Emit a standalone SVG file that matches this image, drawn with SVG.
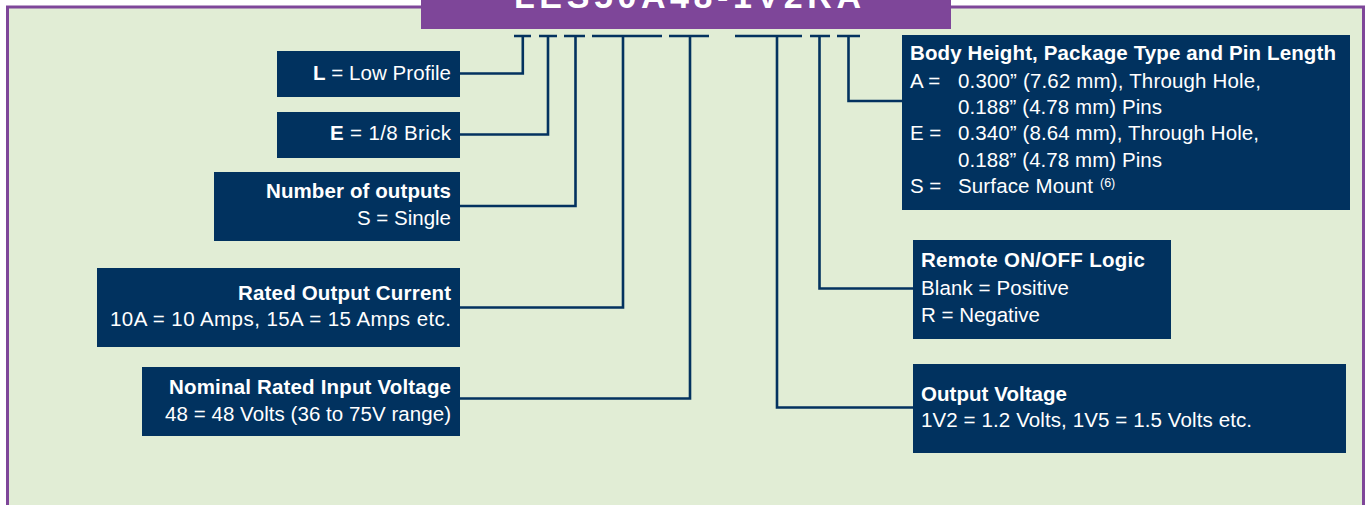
<svg xmlns="http://www.w3.org/2000/svg" width="1369" height="505" viewBox="0 0 1369 505">
  <style>
    .box { fill: #01325f; }
    .t { font-family: "Liberation Sans", Arial, Helvetica, sans-serif; font-size: 20.5px; fill: #ffffff; }
    .b { font-weight: bold; }
    .end { text-anchor: end; }
    .conn { fill: none; stroke: #03325f; stroke-width: 2.6; stroke-linejoin: miter; stroke-linecap: butt; }
  </style>
  <rect x="0" y="0" width="1369" height="505" fill="#ffffff"/>
  <rect id="panel" x="7.5" y="7" width="1356" height="520" fill="#e1edd5" stroke="#7e4699" stroke-width="3"/>

  <g id="title">
    <rect x="421" y="0" width="530" height="29" fill="#7e4699"/>
    <text x="514" y="8" class="t b" style="font-size:34px; letter-spacing:4.6px">LES50A48-1V2RA</text>
  </g>

  <g id="connectors">
    <path class="conn" d="M514,36 H531 M522.8,36 V73.5 H460"/>
    <path class="conn" d="M539,36 H557 M548,36 V134.5 H460"/>
    <path class="conn" d="M564,36 H585 M575.5,36 V206 H460"/>
    <path class="conn" d="M592,36 H662 M623,36 V307.5 H460"/>
    <path class="conn" d="M669,36 H709 M690,36 V398.5 H460"/>
    <path class="conn" d="M735,36 H802 M777,36 V407.5 H913"/>
    <path class="conn" d="M810,36 H830 M819.5,36 V288.5 H913"/>
    <path class="conn" d="M837,36 H860 M848.5,36 V101 H902"/>
  </g>

  <g id="node-low-profile">
    <rect class="box" x="277" y="51" width="183" height="46"/>
    <text class="t end" x="451" y="80" textLength="138"><tspan class="b">L</tspan> = Low Profile</text>
  </g>

  <g id="node-brick">
    <rect class="box" x="277" y="112" width="183" height="46"/>
    <text class="t end" x="451" y="140" textLength="121"><tspan class="b">E</tspan> = 1/8 Brick</text>
  </g>

  <g id="node-outputs">
    <rect class="box" x="214" y="172" width="246" height="69"/>
    <text class="t b end" x="451" y="198" textLength="185">Number of outputs</text>
    <text class="t end" x="451" y="225" textLength="94">S = Single</text>
  </g>

  <g id="node-current">
    <rect class="box" x="97" y="268" width="363" height="79"/>
    <text class="t b end" x="451" y="300" textLength="213">Rated Output Current</text>
    <text class="t end" x="451" y="326" textLength="341">10A = 10 Amps, 15A = 15 Amps etc.</text>
  </g>

  <g id="node-input">
    <rect class="box" x="142" y="367" width="318" height="69"/>
    <text class="t b end" x="451" y="394" textLength="282">Nominal Rated Input Voltage</text>
    <text class="t end" x="451" y="421" textLength="286">48 = 48 Volts (36 to 75V range)</text>
  </g>

  <g id="node-package">
    <rect class="box" x="902" y="35" width="448" height="175"/>
    <text class="t b" x="910" y="60" textLength="426">Body Height, Package Type and Pin Length</text>
    <text class="t" x="910" y="88">A =</text>
    <text class="t" x="958" y="88" textLength="303">0.300” (7.62 mm), Through Hole,</text>
    <text class="t" x="958" y="114" textLength="204">0.188” (4.78 mm) Pins</text>
    <text class="t" x="910" y="140">E =</text>
    <text class="t" x="958" y="140" textLength="301">0.340” (8.64 mm), Through Hole,</text>
    <text class="t" x="958" y="167" textLength="204">0.188” (4.78 mm) Pins</text>
    <text class="t" x="910" y="193">S =</text>
    <text class="t" x="958" y="193" textLength="135">Surface Mount</text>
    <text class="t" x="1100" y="187" style="font-size:12.5px">(6)</text>
  </g>

  <g id="node-remote">
    <rect class="box" x="913" y="240" width="258" height="99"/>
    <text class="t b" x="921" y="267" textLength="224">Remote ON/OFF Logic</text>
    <text class="t" x="921" y="295" textLength="148">Blank = Positive</text>
    <text class="t" x="921" y="322" textLength="119">R = Negative</text>
  </g>

  <g id="node-output-voltage">
    <rect class="box" x="913" y="364" width="433" height="89"/>
    <text class="t b" x="921" y="401" textLength="146">Output Voltage</text>
    <text class="t" x="921" y="427" textLength="331">1V2 = 1.2 Volts, 1V5 = 1.5 Volts etc.</text>
  </g>
</svg>
